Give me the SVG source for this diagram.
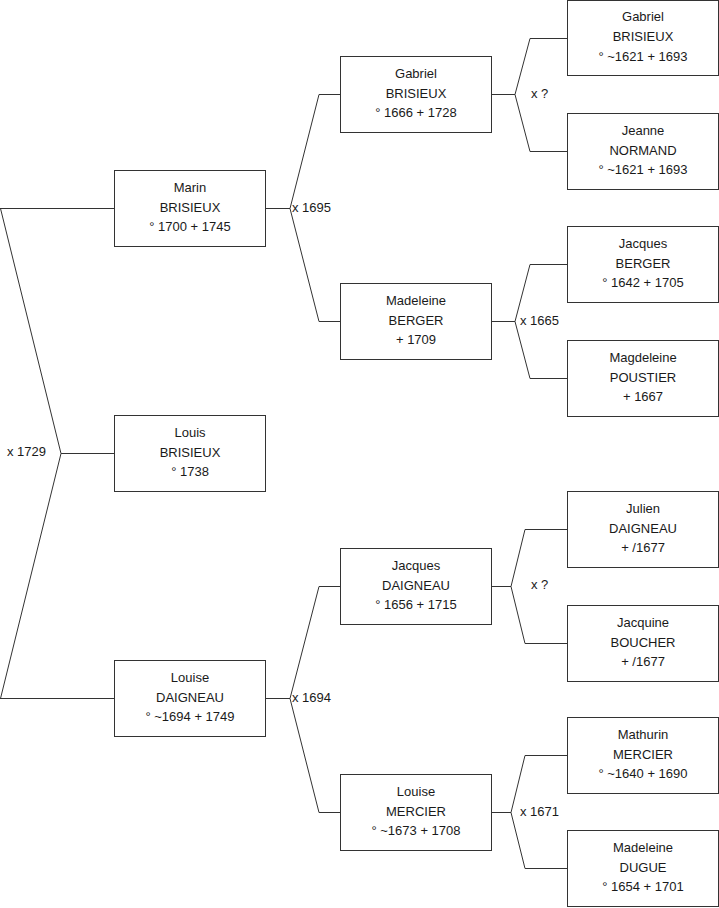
<svg xmlns="http://www.w3.org/2000/svg" width="719" height="908" viewBox="0 0 719 908">
<style>
.box{fill:#fff;stroke:#333;stroke-width:1}
.c{fill:none;stroke:#333;stroke-width:1}
text{font-family:"Liberation Sans",Arial,sans-serif;font-size:13px;fill:#1a1a1a}
.n text{text-anchor:middle}
</style>
<rect width="719" height="908" fill="#fff"/>
<g id="connectors">
<path class="c" d="M0,208.5H114.5M0.5,208.5L61,453.5L0.5,698.5M61,453.5H114.5M0,698.5H114.5"/>
<path class="c" d="M265.5,208.5H290L319,94.5H340.5M290,208.5L319,321.5H340.5"/>
<path class="c" d="M265.5,698.5H290L319,586.5H340.5M290,698.5L319,812.5H340.5"/>
<path class="c" d="M491.5,94.5H515L530,38.5H567.5M515,94.5L530,151.5H567.5"/>
<path class="c" d="M491.5,321.5H515L530,264.5H567.5M515,321.5L530,378.5H567.5"/>
<path class="c" d="M491.5,586.5H511L525,529.5H567.5M511,586.5L525,643.5H567.5"/>
<path class="c" d="M491.5,812.5H511L525,755.5H567.5M511,812.5L525,868.5H567.5"/>
<text x="7" y="456">x 1729</text>
<text x="292" y="212">x 1695</text>
<text x="292" y="702">x 1694</text>
<text x="531" y="97.5">x ?</text>
<text x="520" y="325">x 1665</text>
<text x="531" y="589">x ?</text>
<text x="520" y="816">x 1671</text>
</g>
<g id="marin" class="n"><rect class="box" x="114.5" y="170.5" width="151" height="76"/><text x="190" y="192">Marin</text><text x="190" y="211.5">BRISIEUX</text><text x="190" y="231">° 1700 + 1745</text></g>
<g id="louis" class="n"><rect class="box" x="114.5" y="415.5" width="151" height="76"/><text x="190" y="437">Louis</text><text x="190" y="456.5">BRISIEUX</text><text x="190" y="476">° 1738</text></g>
<g id="louise-daigneau" class="n"><rect class="box" x="114.5" y="660.5" width="151" height="76"/><text x="190" y="682">Louise</text><text x="190" y="701.5">DAIGNEAU</text><text x="190" y="721">° ~1694 + 1749</text></g>
<g id="gabriel-2" class="n"><rect class="box" x="340.5" y="56.5" width="151" height="76"/><text x="416" y="78">Gabriel</text><text x="416" y="97.5">BRISIEUX</text><text x="416" y="117">° 1666 + 1728</text></g>
<g id="madeleine-berger" class="n"><rect class="box" x="340.5" y="283.5" width="151" height="76"/><text x="416" y="305">Madeleine</text><text x="416" y="324.5">BERGER</text><text x="416" y="344">+ 1709</text></g>
<g id="jacques-daigneau" class="n"><rect class="box" x="340.5" y="548.5" width="151" height="76"/><text x="416" y="570">Jacques</text><text x="416" y="589.5">DAIGNEAU</text><text x="416" y="609">° 1656 + 1715</text></g>
<g id="louise-mercier" class="n"><rect class="box" x="340.5" y="774.5" width="151" height="76"/><text x="416" y="796">Louise</text><text x="416" y="815.5">MERCIER</text><text x="416" y="835">° ~1673 + 1708</text></g>
<g id="gabriel-3" class="n"><rect class="box" x="567.5" y="0.5" width="151" height="75"/><text x="643" y="21">Gabriel</text><text x="643" y="41">BRISIEUX</text><text x="643" y="60.5">° ~1621 + 1693</text></g>
<g id="jeanne-normand" class="n"><rect class="box" x="567.5" y="113.5" width="151" height="76"/><text x="643" y="135">Jeanne</text><text x="643" y="154.5">NORMAND</text><text x="643" y="174">° ~1621 + 1693</text></g>
<g id="jacques-berger" class="n"><rect class="box" x="567.5" y="226.5" width="151" height="76"/><text x="643" y="248">Jacques</text><text x="643" y="267.5">BERGER</text><text x="643" y="287">° 1642 + 1705</text></g>
<g id="magdeleine-poustier" class="n"><rect class="box" x="567.5" y="340.5" width="151" height="76"/><text x="643" y="362">Magdeleine</text><text x="643" y="381.5">POUSTIER</text><text x="643" y="401">+ 1667</text></g>
<g id="julien-daigneau" class="n"><rect class="box" x="567.5" y="491.5" width="151" height="76"/><text x="643" y="513">Julien</text><text x="643" y="532.5">DAIGNEAU</text><text x="643" y="552">+ /1677</text></g>
<g id="jacquine-boucher" class="n"><rect class="box" x="567.5" y="605.5" width="151" height="76"/><text x="643" y="627">Jacquine</text><text x="643" y="646.5">BOUCHER</text><text x="643" y="666">+ /1677</text></g>
<g id="mathurin-mercier" class="n"><rect class="box" x="567.5" y="717.5" width="151" height="76"/><text x="643" y="739">Mathurin</text><text x="643" y="758.5">MERCIER</text><text x="643" y="778">° ~1640 + 1690</text></g>
<g id="madeleine-dugue" class="n"><rect class="box" x="567.5" y="830.5" width="151" height="76"/><text x="643" y="852">Madeleine</text><text x="643" y="871.5">DUGUE</text><text x="643" y="891">° 1654 + 1701</text></g>
</svg>
